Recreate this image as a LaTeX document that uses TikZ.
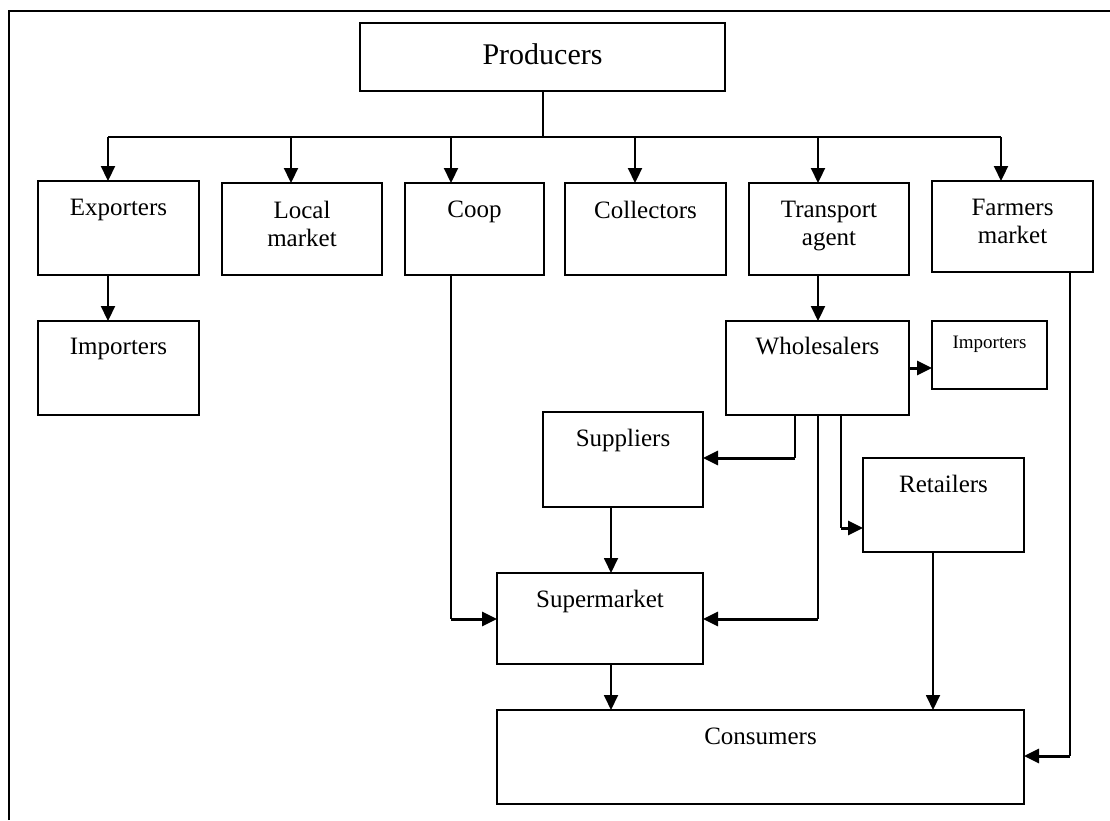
\documentclass[tikz,border=0pt]{standalone}
\usepackage{fontspec}
\setmainfont{Liberation Serif}
\usetikzlibrary{arrows.meta,calc}
\begin{document}
\begin{tikzpicture}[x=1pt,y=-1pt,
  box/.style={draw, line width=1.9pt, inner sep=0pt, outer sep=0pt},
  lbl/.style={anchor=north, yshift=-18pt, inner sep=0pt, align=center, font=\fontsize{25}{28}\selectfont},
  tip/.style={-{Triangle[width=14pt,length=15pt]}},
  busarr/.style={tip, line width=2.2pt},
  thinline/.style={line width=1.5pt},
  thickarr/.style={tip, line width=3pt},
  midarr/.style={tip, line width=1.8pt},
  frameline/.style={line width=2.2pt}
]
\useasboundingbox (0,0) rectangle (1110,820);
\draw[frameline] (9,820) -- (9,11) -- (1110,11);

% boxes
\node[box, minimum width=365pt, minimum height=68pt, label={[lbl, yshift=-2pt, font=\fontsize{30}{34}\selectfont]north:Producers}] (prod) at (542.5,57) {};
\node[box, minimum width=161pt, minimum height=94pt, label={[lbl]north:Exporters}] (exp) at (118.5,228) {};
\node[box, minimum width=160pt, minimum height=92pt, label={[lbl]north:Local\\market}] (loc) at (302,229) {};
\node[box, minimum width=139pt, minimum height=92pt, label={[lbl]north:Coop}] (coop) at (474.5,229) {};
\node[box, minimum width=161pt, minimum height=92pt, label={[lbl]north:Collectors}] (coll) at (645.5,229) {};
\node[box, minimum width=160pt, minimum height=92pt, label={[lbl]north:Transport\\agent}] (trans) at (829,229) {};
\node[box, minimum width=161pt, minimum height=91pt, label={[lbl]north:Farmers\\market}] (farm) at (1012.5,226.5) {};
\node[box, minimum width=161pt, minimum height=94pt, label={[lbl, yshift=1pt]north:Importers}] (impa) at (118.5,368) {};
\node[box, minimum width=183pt, minimum height=94pt, label={[lbl, yshift=2pt]north:Wholesalers}] (whole) at (817.5,368) {};
\node[box, minimum width=115pt, minimum height=68pt, label={[lbl, yshift=3pt, font=\fontsize{19}{22}\selectfont]north:Importers}] (impb) at (989.5,355) {};
\node[box, minimum width=160pt, minimum height=95pt, label={[lbl, yshift=1pt]north:Suppliers}] (supp) at (623,459.5) {};
\node[box, minimum width=161pt, minimum height=94pt, label={[lbl, yshift=1pt]north:Retailers}] (ret) at (943.5,505) {};
\node[box, minimum width=206pt, minimum height=91pt, label={[lbl, yshift=1pt]north:Supermarket}] (super) at (600,618.5) {};
\node[box, minimum width=527pt, minimum height=94pt, label={[lbl]north:Consumers}] (cons) at (760.5,757) {};

% bus from producers
\coordinate (bus) at (542.5,137);
\coordinate (b1) at (108,137);
\coordinate (b2) at (291,137);
\coordinate (b3) at (451,137);
\coordinate (b4) at (635,137);
\coordinate (b5) at (818,137);
\coordinate (b6) at (1001,137);
\draw[line width=2pt] (prod.south) -- (bus);
\draw[line width=2.2pt] (b1) -- (b6);
\draw[busarr] (b1) -- (b1 |- exp.north);
\draw[busarr] (b2) -- (b2 |- loc.north);
\draw[busarr] (b3) -- (b3 |- coop.north);
\draw[busarr] (b4) -- (b4 |- coll.north);
\draw[busarr] (b5) -- (b5 |- trans.north);
\draw[busarr] (b6) -- (b6 |- farm.north);

% second row
\draw[busarr] (exp.south -| b1) -- (b1 |- impa.north);
\draw[busarr] (trans.south -| b5) -- (b5 |- whole.north);
\draw[thickarr] (whole.east) -- (whole.east -| impb.west);

% coop to supermarket
\coordinate (cd) at (451,619);
\draw[thinline] (coop.south -| cd) -- (cd);
\draw[thickarr] (cd) -- (cd -| super.west);

% wholesalers branches
\coordinate (w1) at (795,458);
\coordinate (w2) at (818,619);
\coordinate (w3) at (841,528);
\draw[thinline] (whole.south -| w1) -- (w1);
\draw[thickarr] (w1) -- (w1 -| supp.east);
\draw[thinline] (whole.south -| w2) -- (w2);
\draw[thickarr] (w2) -- (w2 -| super.east);
\draw[thinline] (whole.south -| w3) -- (w3);
\draw[thickarr] (w3) -- (w3 -| ret.west);

% suppliers / supermarket / retailers to consumers
\coordinate (s1) at ($(supp.south)+(-12,0)$);
\draw[midarr] (s1) -- (s1 |- super.north);
\coordinate (c1) at ($(super.south)+(11,0)$);
\draw[midarr] (c1) -- (c1 |- cons.north);
\coordinate (r1) at ($(ret.south)+(-10.5,0)$);
\draw[midarr] (r1) -- (r1 |- cons.north);

% farmers market to consumers
\coordinate (f1) at (1070,756);
\draw[thinline] (farm.south -| f1) -- (f1);
\draw[thickarr] (f1) -- (f1 -| cons.east);
\end{tikzpicture}
\end{document}
